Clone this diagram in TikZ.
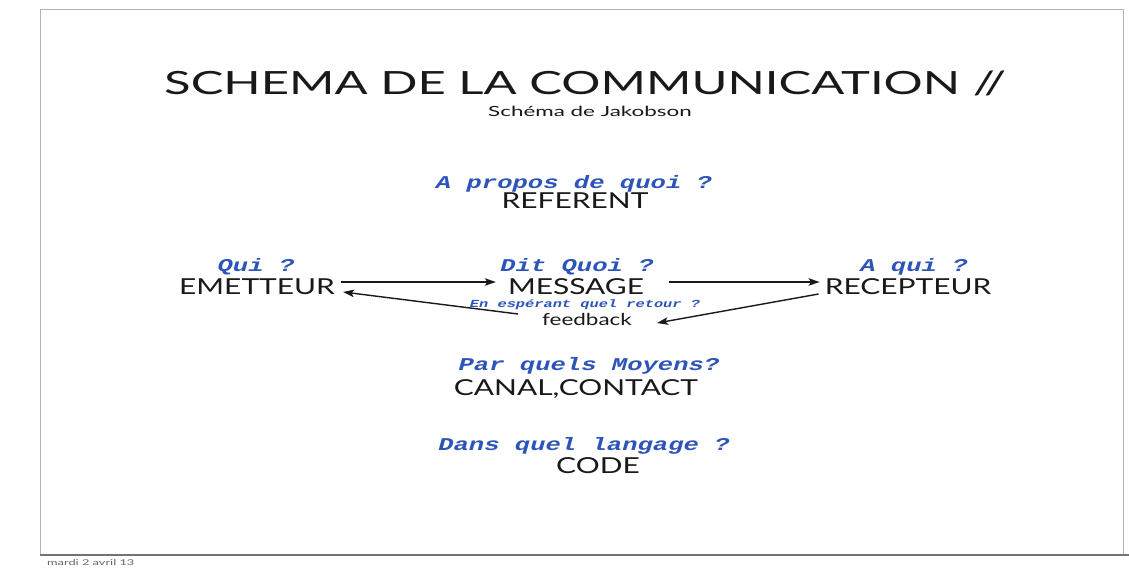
\documentclass[tikz,border=0pt]{standalone}
\usepackage{fontspec}
\setmainfont{Lato}
\newfontfamily\latA[FakeStretch=1.36]{Lato}
\newfontfamily\latT[FakeStretch=1.53]{Lato}
\newfontfamily\latS[FakeStretch=1.6]{Lato}
\newfontfamily\monob[FakeStretch=1.42]{Liberation Mono}
\usetikzlibrary{arrows.meta}
\definecolor{qblue}{RGB}{45,85,185}
\definecolor{ink}{RGB}{25,25,25}
\tikzset{
  x=1pt,y=-1pt,
  q/.style={anchor=base,inner sep=0pt,text=qblue,font=\monob\bfseries\itshape\fontsize{18}{18}\selectfont},
  lab/.style={anchor=base,inner sep=0pt,text=ink,font=\latA\fontsize{22}{22}\selectfont},
  arr/.style={draw=ink,line width=1.4pt,-{Stealth[length=11pt,width=7.5pt,inset=2.5pt]}},
}
\begin{document}
\begin{tikzpicture}
\useasboundingbox (0,0) rectangle (1129,583);
\fill[white] (0,0) rectangle (1129,583);
\draw[black!30,line width=1pt] (40,555) -- (40,10) -- (1123,10) -- (1123,555);
\draw[black!55,line width=2pt] (40,555) -- (1129,555);
\node[anchor=base,inner sep=0pt,text=ink,font=\latT\fontsize{32}{32}\selectfont] (title) at (585,95) {SCHEMA DE LA COMMUNICATION //};
\node[anchor=base,inner sep=0pt,text=ink,font=\latS\fontsize{14}{14}\selectfont] (sub) at (590,117) {Schéma de Jakobson};
\node[q] (qref) at (574,188) {A propos de quoi ?};
\node[lab] (ref) at (575,208) {REFERENT};
\node[q] (qem) at (256,271) {Qui ?};
\node[lab] (em) at (257,294) {EMETTEUR};
\node[q] (qmsg) at (577,271) {Dit Quoi ?};
\node[lab] (msg) at (576,294) {MESSAGE};
\node[q] (qrec) at (914,271) {A qui ?};
\node[lab] (rec) at (908,294) {RECEPTEUR};
\node[q,font=\monob\bfseries\itshape\fontsize{10.8}{10.8}\selectfont] (qfb) at (585,307) {En espérant quel retour ?};
\node[lab,font=\latA\fontsize{16.5}{16.5}\selectfont] (fb) at (587,325) {feedback};
\node[q] (qcan) at (589,370) {Par quels Moyens?};
\node[lab] (can) at (576,395) {CANAL,CONTACT};
\node[q] (qcode) at (584,450) {Dans quel langage ?};
\node[lab] (code) at (598,473) {CODE};
\node[anchor=base west,inner sep=0pt,text=black!60,font=\latS\fontsize{8}{8}\selectfont] (date) at (47,565) {mardi 2 avril 13};
\draw[arr] ([xshift=6pt,yshift=12pt]em.base east) -- ([xshift=-12pt,yshift=12pt]msg.base west);
\draw[arr] ([xshift=25pt,yshift=12pt]msg.base east) -- ([xshift=-5pt,yshift=12pt]rec.base west);
\draw[arr] ([xshift=-6pt,yshift=0pt]rec.base west) -- ([xshift=25pt,yshift=2pt]fb.base east);
\draw[arr] ([xshift=-24pt,yshift=11pt]fb.base west) -- ([xshift=8pt,yshift=2pt]em.base east);
\end{tikzpicture}
\end{document}
